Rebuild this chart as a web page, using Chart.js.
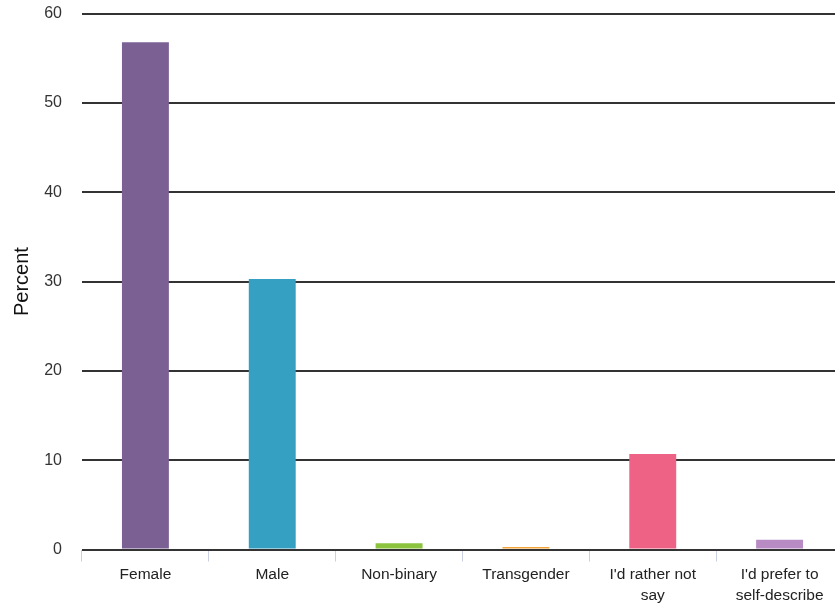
<!DOCTYPE html>
<html>
<head>
<meta charset="utf-8">
<script src="https://cdn.jsdelivr.net/npm/chart.js@4"></script>
<style>
  html, body { margin: 0; padding: 0; background: #fff; overflow: hidden; }
  #wrap { position: relative; width: 844px; height: 609px; }
</style>
</head>
<body>
<div id="wrap"><canvas id="chart"></canvas></div>
<script>
const categories = [
  "Female",
  "Male",
  "Non-binary",
  "Transgender",
  ["I'd rather not", "say"],
  ["I'd prefer to", "self-describe"],
];
const percents = [56.8, 30.3, 0.7, 0.3, 10.7, 1.1];
const barColors = ["#7b6193", "#35a0c2", "#8cc43f", "#f2a33a", "#ee6286", "#b88bc5"];
const yTicks = [0, 10, 20, 30, 40, 50, 60];

const font = "'Liberation Sans', Arial, sans-serif";

new Chart(document.getElementById("chart"), {
  type: "bar",
  data: {
    labels: categories,
    datasets: [
      {
        label: "Percent",
        data: percents,
        backgroundColor: barColors,
        borderWidth: 0,
        categoryPercentage: 1,
        barPercentage: 0.37,
      },
    ],
  },
  options: {
    responsive: true,
    maintainAspectRatio: false,
    animation: false,
    layout: { padding: { top: 0, right: 1, bottom: 0, left: 0 } },
    plugins: { legend: { display: false }, tooltip: { enabled: false } },
    scales: {
      x: {
        grid: {
          display: true,
          drawOnChartArea: false,
          drawTicks: true,
          tickLength: 12,
          color: "#c9d1e2",
          lineWidth: 1,
          offset: true,
        },
        border: { display: false },
        ticks: {
          color: "#222",
          font: { family: font, size: 15.5, lineHeight: 1.4 },
          padding: 2,
          maxRotation: 0,
          autoSkip: false,
        },
      },
      y: {
        min: 0,
        max: 60,
        afterBuildTicks: (s) => {
          s.ticks = yTicks.map((v) => ({ value: v }));
        },
        afterFit: (s) => {
          s.width = 82;
        },
        grid: {
          color: "#333",
          lineWidth: 2,
          drawTicks: true,
          tickLength: 16,
          tickColor: "rgba(0,0,0,0)",
        },
        border: { display: false },
        ticks: {
          color: "#333",
          font: { family: font, size: 16 },
          padding: 4,
        },
        title: {
          display: true,
          text: "Percent",
          color: "#111",
          font: { family: font, size: 20 },
          padding: { top: 10, bottom: 0 },
        },
      },
    },
  },
});
</script>
</body>
</html>
